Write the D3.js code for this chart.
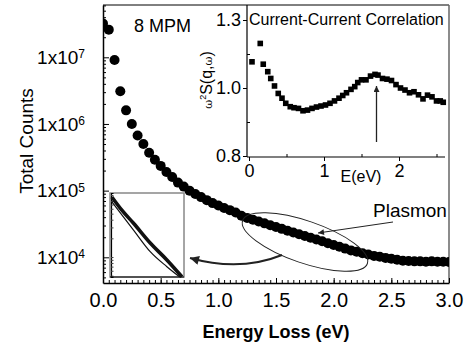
<!DOCTYPE html>
<html>
<head>
<meta charset="utf-8">
<script src="https://cdn.jsdelivr.net/npm/d3@7"></script>
<style>
  body { margin: 0; background: #fff; }
  svg { font-family: 'Liberation Sans', Arial, sans-serif; }
</style>
</head>
<body>
<div id="chart"></div>
<script>
// main panel: total counts vs energy loss (eV)
const energy = [0.00, 0.05, 0.10, 0.15, 0.20, 0.25, 0.30, 0.35, 0.40, 0.45,
  0.50, 0.55, 0.60, 0.65, 0.70, 0.75, 0.80, 0.85, 0.90, 0.95,
  1.00, 1.05, 1.10, 1.15, 1.20, 1.25, 1.30, 1.35, 1.40, 1.45,
  1.50, 1.55, 1.60, 1.65, 1.70, 1.75, 1.80, 1.85, 1.90, 1.95,
  2.00, 2.05, 2.10, 2.15, 2.20, 2.25, 2.30, 2.35, 2.40, 2.45,
  2.50, 2.55, 2.60, 2.65, 2.70, 2.75, 2.80, 2.85, 2.90, 2.95, 3.00]
const counts = [3.2e7, 2.6e7, 9.1e6, 3.1e6, 1.6e6, 1.0e6, 6.7e5, 5.0e5, 3.7e5, 2.9e5,
  2.35e5, 1.9e5, 1.6e5, 1.32e5, 1.15e5, 1.0e5, 8.9e4, 8.0e4, 7.2e4, 6.5e4,
  5.97e4, 5.5e4, 5.1e4, 4.7e4, 4.2e4, 3.9e4, 3.66e4, 3.44e4, 3.23e4, 3.03e4,
  2.85e4, 2.67e4, 2.51e4, 2.36e4, 2.22e4, 2.09e4, 1.96e4, 1.85e4, 1.74e4, 1.63e4,
  1.53e4, 1.44e4, 1.35e4, 1.27e4, 1.21e4, 1.15e4, 1.10e4, 1.05e4, 1.02e4, 9.8e3,
  9.5e3, 9.2e3, 8.9e3, 8.8e3, 8.7e3, 8.7e3, 8.6e3, 8.7e3, 8.6e3, 8.6e3, 8.5e3]
const xTicks = [0.0, 0.5, 1.0, 1.5, 2.0, 2.5, 3.0]
const yTicks = [1e4, 1e5, 1e6, 1e7]

// inset: current-current correlation
const insetE = [0.04, 0.15, 0.19, 0.25, 0.29, 0.34, 0.39, 0.44, 0.49, 0.55,
  0.60, 0.66, 0.72, 0.78, 0.84, 0.90, 0.96, 1.02, 1.08, 1.14,
  1.20, 1.25, 1.30, 1.36, 1.41, 1.45, 1.50, 1.56, 1.62, 1.68,
  1.72, 1.78, 1.84, 1.90, 1.96, 2.02, 2.08, 2.14, 2.20, 2.26,
  2.32, 2.38, 2.44, 2.50, 2.55, 2.59]
const insetS = [1.077, 1.131, 1.070, 1.048, 1.028, 1.006, 0.984, 0.970, 0.955, 0.945,
  0.942, 0.940, 0.933, 0.935, 0.940, 0.944, 0.947, 0.950, 0.955, 0.962,
  0.970, 0.978, 0.986, 0.996, 1.004, 1.016, 1.024, 1.024, 1.035, 1.040,
  1.038, 1.028, 1.026, 1.022, 1.010, 1.000, 0.994, 0.986, 0.989, 0.980,
  0.968, 0.979, 0.974, 0.962, 0.962, 0.958]
const insetXTicks = [0, 1, 2]
const insetYTicks = [0.8, 1.0, 1.2]
const insetYLabels = ['0.8', '1.0', '1.3']

// small zoom box: data band vs fit
const zoomE = [0.77, 1.01, 1.29, 1.69, 2.09, 2.45]
const zoomData = [9.3e4, 5.7e4, 3.5e4, 1.68e4, 8.96e3, 4.8e3]
const zoomFitE = [0.77, 1.29, 1.69, 2.09, 2.40]
const zoomFit = [7.8e4, 2.72e4, 1.22e4, 6.98e3, 4.75e3]

const margin = { top: 5, right: 18, bottom: 67, left: 103 }
const width = 467 - margin.left - margin.right
const height = 350 - margin.top - margin.bottom

const svg = d3.select('#chart')
  .append('svg')
  .attr('width', 467)
  .attr('height', 350)

const defs = svg.append('defs')
defs.append('clipPath').attr('id', 'plot-clip')
  .append('rect').attr('width', width).attr('height', height)

function arrowMarker(id, w, h) {
  defs.append('marker')
    .attr('id', id)
    .attr('viewBox', '0 0 10 10')
    .attr('refX', 10).attr('refY', 5)
    .attr('markerUnits', 'userSpaceOnUse')
    .attr('markerWidth', w).attr('markerHeight', h)
    .attr('orient', 'auto')
    .append('path').attr('d', 'M0,0 L10,5 L0,10 Z').attr('fill', '#222')
}
arrowMarker('arrow-small', 9, 6)
arrowMarker('arrow-big', 14, 9)

const g = svg.append('g')
  .attr('transform', 'translate(' + margin.left + ',' + margin.top + ')')

const x = d3.scaleLinear().domain([0, 3]).range([0, width])
const y = d3.scaleLog().domain([4118, 6.087e7]).range([height, 0])

// frame
g.append('line').attr('x1', 0).attr('x2', width).attr('y1', 0).attr('y2', 0)
  .attr('stroke', '#000').attr('stroke-width', 1)
g.append('line').attr('x1', width).attr('x2', width).attr('y1', 0).attr('y2', height)
  .attr('stroke', '#666').attr('stroke-width', 1.5)

// x axis
const xMinor = d3.range(0, 61).map(i => i * 0.05)
g.append('g')
  .attr('transform', 'translate(0,' + height + ')')
  .call(d3.axisBottom(x).tickValues(xMinor).tickSize(-3).tickSizeOuter(0).tickFormat(''))
  .call(s => s.select('.domain').remove())
g.append('g')
  .attr('class', 'x-axis')
  .attr('transform', 'translate(0,' + height + ')')
  .call(d3.axisBottom(x).tickValues(xTicks).tickSize(-5).tickSizeOuter(0)
    .tickPadding(10).tickFormat(d3.format('.1f')))
  .call(s => s.selectAll('text').attr('font-size', 20).attr('fill', '#000')
    .attr('font-family', "'Liberation Sans', Arial, sans-serif"))

// y axis (log)
const yMinor = []
d3.range(3, 8).forEach(p => {
  d3.range(2, 10).forEach(k => {
    const v = k * Math.pow(10, p)
    if (v > y.domain()[0] && v < y.domain()[1]) yMinor.push(v)
  })
})
g.append('g')
  .call(d3.axisLeft(y).tickValues(yMinor).tickSize(-3).tickSizeOuter(0).tickFormat(''))
  .call(s => s.select('.domain').remove())
g.append('g')
  .attr('class', 'y-axis')
  .call(d3.axisLeft(y).tickValues(yTicks).tickSize(-6).tickSizeOuter(0).tickPadding(18))
  .call(s => s.selectAll('text').each(function(d) {
    const t = d3.select(this)
      .attr('font-size', 19).attr('fill', '#000')
      .attr('font-family', "'Liberation Sans', Arial, sans-serif")
      .text('1x10')
    t.append('tspan').attr('dy', '-0.45em').attr('font-size', 12).text(Math.round(Math.log10(d)))
  }))

g.selectAll('.domain').attr('stroke-width', 1.5)

// data
g.append('g')
  .attr('clip-path', 'url(#plot-clip)')
  .selectAll('circle')
  .data(energy)
  .enter()
  .append('circle')
  .attr('cx', (d, i) => x(d))
  .attr('cy', (d, i) => y(counts[i]))
  .attr('r', 5)
  .attr('fill', '#000')

// axis titles
svg.append('text')
  .attr('x', 276).attr('y', 338)
  .attr('text-anchor', 'middle')
  .attr('font-size', 18).attr('font-weight', 'bold')
  .text('Energy Loss (eV)')
svg.append('text')
  .attr('transform', 'translate(33,141) rotate(-90)')
  .attr('text-anchor', 'middle')
  .attr('font-size', 19)
  .text('Total Counts')
svg.append('text')
  .attr('x', 134).attr('y', 32)
  .attr('font-size', 18)
  .text('8 MPM')

// ---- inset ----
const ix = d3.scaleLinear().domain([0, 2]).range([249, 399])
const iy = d3.scaleLinear().domain([0.8, 1.2]).range([156, 20])
const inset = svg.append('g')

inset.append('line').attr('x1', 247).attr('x2', 445).attr('y1', 157).attr('y2', 157)
  .attr('stroke', '#000').attr('stroke-width', 1.2)
inset.append('line').attr('x1', 247).attr('x2', 247).attr('y1', 5).attr('y2', 157)
  .attr('stroke', '#000').attr('stroke-width', 1.2)

inset.append('g')
  .attr('transform', 'translate(0,157)')
  .call(d3.axisBottom(ix).tickValues(insetXTicks).tickSize(4).tickPadding(3)
    .tickFormat(d3.format('d')))
  .call(s => s.select('.domain').remove())
  .call(s => s.selectAll('text').attr('font-size', 18).attr('fill', '#000')
    .attr('font-family', "'Liberation Sans', Arial, sans-serif"))
inset.append('g')
  .attr('transform', 'translate(0,157)')
  .call(d3.axisBottom(ix).tickValues([0.5, 1.5, 2.5]).tickSize(-3).tickFormat(''))
  .call(s => s.select('.domain').remove())
inset.append('g')
  .attr('transform', 'translate(247,0)')
  .call(d3.axisLeft(iy).tickValues(insetYTicks).tickSize(4).tickPadding(2)
    .tickFormat((d, i) => insetYLabels[i]))
  .call(s => s.select('.domain').remove())
  .call(s => s.selectAll('text').attr('font-size', 18).attr('fill', '#000')
    .attr('font-family', "'Liberation Sans', Arial, sans-serif"))
inset.append('g')
  .attr('transform', 'translate(247,0)')
  .call(d3.axisLeft(iy).tickValues([0.9, 1.1]).tickSize(-3).tickFormat(''))
  .call(s => s.select('.domain').remove())

inset.selectAll('rect.sq')
  .data(insetE)
  .enter()
  .append('rect')
  .attr('class', 'sq')
  .attr('x', d => ix(d) - 2.8)
  .attr('y', (d, i) => iy(insetS[i]) - 2.8)
  .attr('width', 5.6).attr('height', 5.6)
  .attr('fill', '#000')

inset.append('text')
  .attr('x', 249).attr('y', 25)
  .attr('font-size', 16)
  .text('Current-Current Correlation')
inset.append('text')
  .attr('x', 361).attr('y', 182)
  .attr('text-anchor', 'middle')
  .attr('font-size', 16)
  .text('E(eV)')

const yl = inset.append('text')
  .attr('transform', 'translate(212,80) rotate(-90)')
  .attr('text-anchor', 'middle')
yl.append('tspan').attr('font-family', "'DejaVu Serif', serif").attr('font-size', 11).text('ω')
yl.append('tspan').attr('font-size', 9).attr('dy', -6).text('2')
yl.append('tspan').attr('font-size', 16).attr('dy', 6).text('S(q,')
yl.append('tspan').attr('font-family', "'DejaVu Serif', serif").attr('font-size', 11).text('ω')
yl.append('tspan').attr('font-size', 16).text(')')

// peak arrow
inset.append('line')
  .attr('x1', ix(1.7)).attr('x2', ix(1.7))
  .attr('y1', 142).attr('y2', 86)
  .attr('stroke', '#222').attr('stroke-width', 1.3)
  .attr('marker-end', 'url(#arrow-small)')

// ---- small zoom box ----
const zx = d3.scaleLinear().domain([0.75, 2.5]).range([111, 184])
const zy = d3.scaleLog().domain([4760, 1.077e5]).range([277, 193])
const zoomBox = svg.append('g')
zoomBox.append('rect')
  .attr('x', 110).attr('y', 193).attr('width', 74).attr('height', 84)
  .attr('fill', '#fff').attr('stroke', '#888').attr('stroke-width', 1.5)
const zMinor = []
d3.range(3, 6).forEach(p => {
  d3.range(1, 10).forEach(k => {
    const v = k * Math.pow(10, p)
    if (v > zy.domain()[0] && v < zy.domain()[1]) zMinor.push(v)
  })
})
zoomBox.append('g')
  .attr('transform', 'translate(111,0)')
  .call(d3.axisLeft(zy).tickValues(zMinor).tickSize(-2.5).tickFormat(''))
  .call(s => s.select('.domain').attr('stroke-width', 1.2))
  .call(s => s.selectAll('.tick line').attr('stroke', '#444'))
zoomBox.append('line').attr('x1', 110).attr('x2', 184).attr('y1', 277).attr('y2', 277)
  .attr('stroke', '#000').attr('stroke-width', 1.2)

const zLine = d3.line().curve(d3.curveMonotoneX)
zoomBox.append('path')
  .attr('d', zLine(zoomE.map((d, i) => [zx(d), zy(zoomData[i])])))
  .attr('fill', 'none').attr('stroke', '#111').attr('stroke-width', 3.6)
zoomBox.append('path')
  .attr('d', zLine(zoomFitE.map((d, i) => [zx(d), zy(zoomFit[i])])))
  .attr('fill', 'none').attr('stroke', '#111').attr('stroke-width', 1.2)

// ---- annotations ----
svg.append('ellipse')
  .attr('cx', 305).attr('cy', 242)
  .attr('rx', 66).attr('ry', 21)
  .attr('transform', 'rotate(19,305,242)')
  .attr('fill', 'none').attr('stroke', '#222').attr('stroke-width', 1)

svg.append('text')
  .attr('x', 373).attr('y', 217)
  .attr('font-size', 19)
  .text('Plasmon')
svg.append('line')
  .attr('x1', 393).attr('y1', 222)
  .attr('x2', 318).attr('y2', 233)
  .attr('stroke', '#222').attr('stroke-width', 1)
  .attr('marker-end', 'url(#arrow-small)')

svg.append('path')
  .attr('d', 'M282,255 Q240,272 190,258')
  .attr('fill', 'none').attr('stroke', '#222').attr('stroke-width', 2)
  .attr('marker-end', 'url(#arrow-big)')
</script>
</body>
</html>
